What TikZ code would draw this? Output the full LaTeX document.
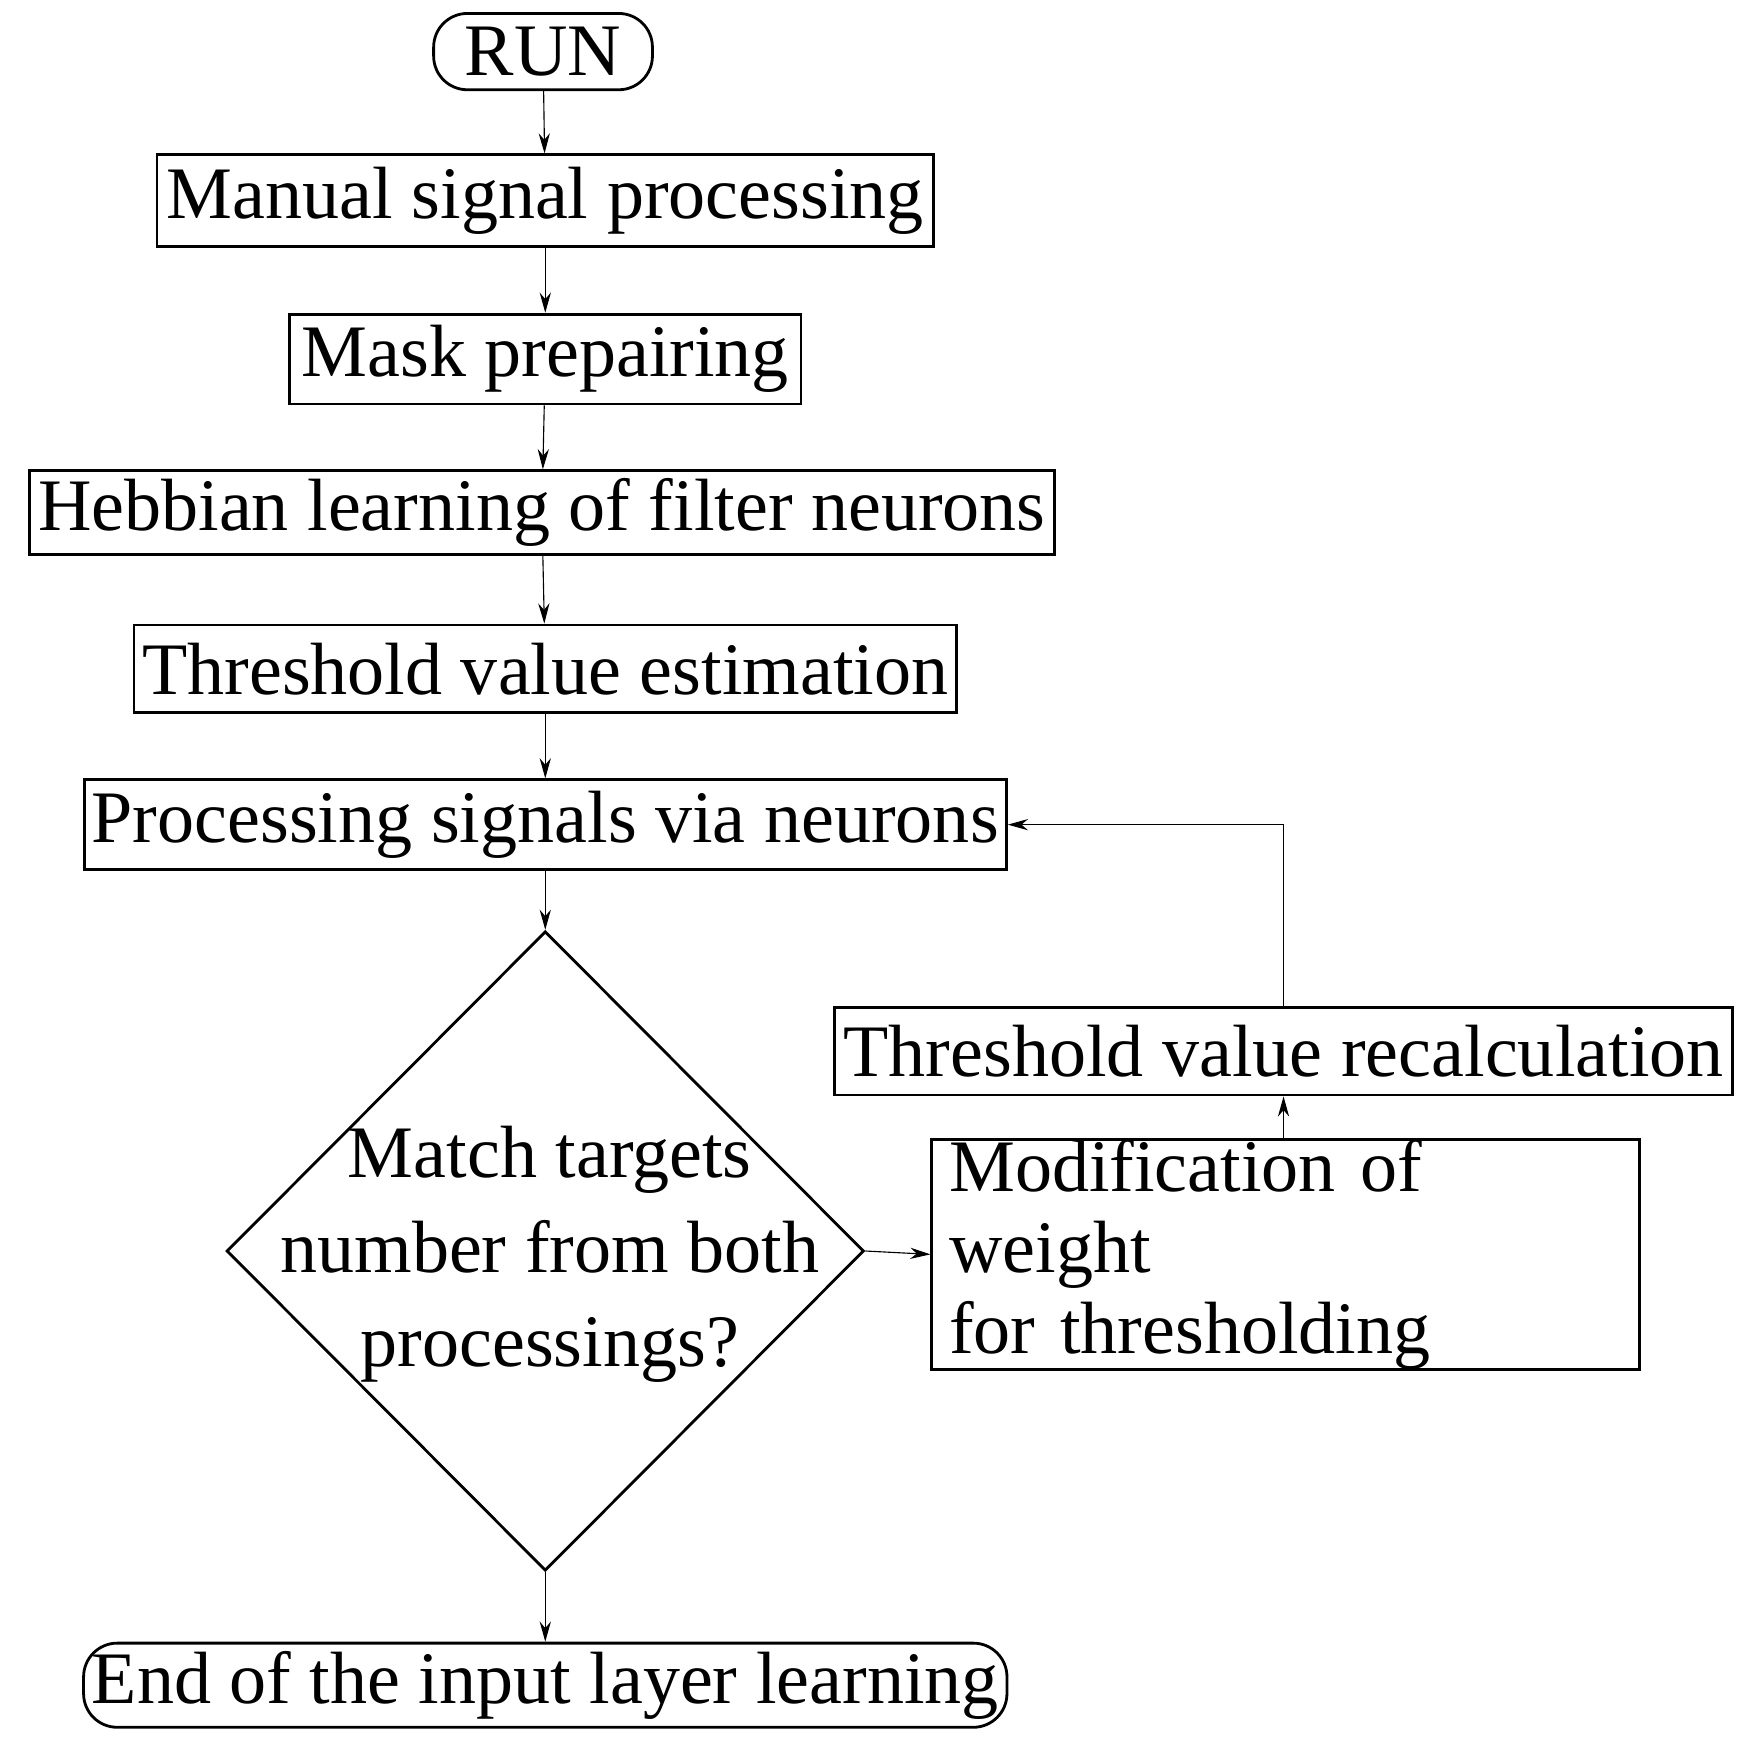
\documentclass[tikz,border=0pt]{standalone}
\usepackage{fontspec}
\setmainfont{Liberation Serif}
\usetikzlibrary{arrows.meta,shapes.geometric}
\begin{document}
\begin{tikzpicture}[x=1pt,y=-1pt,
 box/.style={draw,line width=2.5pt,inner sep=0pt,anchor=center,font=\fontsize{66}{72}\selectfont},
 rbox/.style={box,rounded corners=30pt},
 ar/.style={-{Stealth[length=18pt,width=10pt]},line width=1pt}]
\useasboundingbox (0,0) rectangle (1560,1566);
\node[rbox,minimum width=195pt,minimum height=68pt] (run) at (484,46) {RUN};
\node[box,minimum width=692pt,minimum height=82pt] (man) at (486,179) {Manual signal processing};
\node[box,minimum width=456pt,minimum height=80pt] (mask) at (486,320) {Mask prepairing};
\node[box,minimum width=913pt,minimum height=75pt] (heb) at (483,457) {Hebbian learning of filter neurons};
\node[box,minimum width=733pt,minimum height=78pt] (thr) at (486,596) {Threshold value estimation};
\node[box,minimum width=822pt,minimum height=80pt] (proc) at (486,735) {Processing signals via neurons};
\node[draw,line width=2.5pt,diamond,minimum width=568pt,minimum height=570pt,inner sep=0pt] (dec) at (486,1115) {};
\node[font=\fontsize{66}{84}\selectfont,align=center] (dect) at (490,1118) {Match targets\\number from both\\processings?};
\node[box,minimum width=631pt,minimum height=163pt,align=left,text width=600pt] (mod) at (1146,1118) {Modification of weight\\for thresholding};
\node[box,minimum width=801pt,minimum height=78pt] (rec) at (1144,937) {Threshold value recalculation};
\node[rbox,minimum width=823pt,minimum height=75pt] (end) at (486,1502) {End of the input layer learning};
\draw[ar] (run) -- (man);
\draw[ar] (man) -- (mask);
\draw[ar] (mask) -- (heb);
\draw[ar] (heb) -- (thr);
\draw[ar] (thr) -- (proc);
\draw[ar] (proc) -- (dec.north);
\draw[ar] (dec.south) -- (end);
\draw[ar] (dec.east) -- (mod.west);
\draw[ar] (mod.north -| rec) -- (rec);
\draw[ar] (rec.north) |- (proc.east);
\end{tikzpicture}
\end{document}
